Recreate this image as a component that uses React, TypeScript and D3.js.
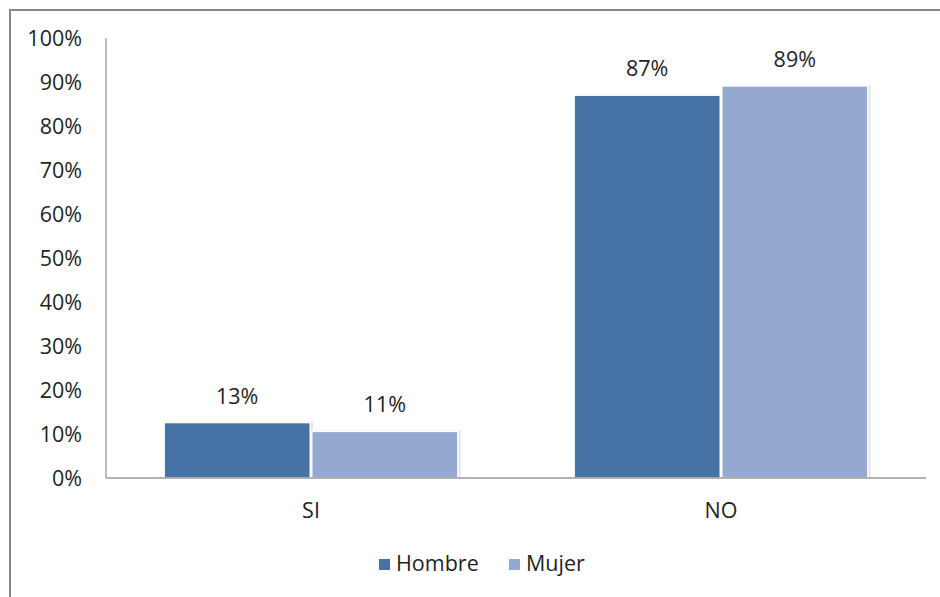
import React from "react";
import * as d3 from "d3";

// Chart data
const categories = ["SI", "NO"];
const seriesNames = ["Hombre", "Mujer"];
const hombreValues = [0.126, 0.87];
const mujerValues = [0.106, 0.891];
const yTicks = [0, 0.1, 0.2, 0.3, 0.4, 0.5, 0.6, 0.7, 0.8, 0.9, 1.0];

const seriesColors = ["#4672A6", "#95A9D0"];
const seriesValues = [hombreValues, mujerValues];

const W = 940;
const H = 597;
const plot = { left: 106, right: 926, top: 38, bottom: 478 };
const font = "'Open Sans', 'Liberation Sans', sans-serif";
const textColor = "#1f1f1f";
const fontSize = 21.5;

export default function App() {
  const y = d3.scaleLinear().domain([0, 1]).range([plot.bottom, plot.top]);
  const x0 = d3
    .scaleBand<string>()
    .domain(categories)
    .range([plot.left, plot.right])
    .paddingInner(0.28)
    .paddingOuter(0.14);
  const x1 = d3
    .scaleBand<string>()
    .domain(seriesNames)
    .range([0, x0.bandwidth()])
    .padding(0);
  const pct = d3.format(".0%");

  return (
    <svg
      width={W}
      height={H}
      style={{ position: "absolute", left: 0, top: 0, background: "#fff" }}
    >
      {/* outer chart frame */}
      <rect x={10} y={10} width={W + 20} height={H + 20} fill="#fff" stroke="#888" strokeWidth={2} />

      {/* y tick labels */}
      {yTicks.map((t) => (
        <text
          key={t}
          x={82}
          y={y(t)}
          dy="0.35em"
          textAnchor="end"
          fontFamily={font}
          fontSize={fontSize}
          fill={textColor}
        >
          {pct(t)}
        </text>
      ))}

      {/* bars */}
      {categories.map((c, ci) => (
        <g key={c} transform={`translate(${x0(c)},0)`}>
          {seriesNames.map((s, si) => {
            const v = seriesValues[si][ci];
            const bx = x1(s)!;
            const bw = x1.bandwidth();
            const top = y(v);
            return (
              <g key={s}>
                <rect
                  x={bx + 2}
                  y={top - 1}
                  width={bw}
                  height={plot.bottom - top + 1}
                  fill="#e4e4e4"
                />
                <rect
                  x={bx + 0.75}
                  y={top}
                  width={bw - 1.5}
                  height={plot.bottom - top}
                  fill={seriesColors[si]}
                  stroke="#fff"
                  strokeWidth={1.5}
                />
                <text
                  x={bx + bw / 2}
                  y={top - 19}
                  textAnchor="middle"
                  fontFamily={font}
                  fontSize={fontSize}
                  fill={textColor}
                >
                  {pct(v)}
                </text>
              </g>
            );
          })}
        </g>
      ))}

      {/* axes */}
      <line x1={plot.left} x2={plot.left} y1={plot.top} y2={plot.bottom} stroke="#9a9a9a" strokeWidth={1.3} />
      <line x1={plot.left} x2={plot.right} y1={plot.bottom} y2={plot.bottom} stroke="#9a9a9a" strokeWidth={1.3} />

      {/* category labels */}
      {categories.map((c) => (
        <text
          key={c}
          x={x0(c)! + x0.bandwidth() / 2}
          y={518}
          textAnchor="middle"
          fontFamily={font}
          fontSize={fontSize}
          fill={textColor}
        >
          {c}
        </text>
      ))}

      {/* legend */}
      {seriesNames.map((s, i) => {
        const lx = [379, 509][i];
        return (
          <g key={s}>
            <rect x={lx} y={559} width={11} height={11} fill={seriesColors[i]} />
            <text
              x={lx + 17}
              y={571}
              fontFamily={font}
              fontSize={fontSize}
              fill={textColor}
            >
              {s}
            </text>
          </g>
        );
      })}
    </svg>
  );
}
